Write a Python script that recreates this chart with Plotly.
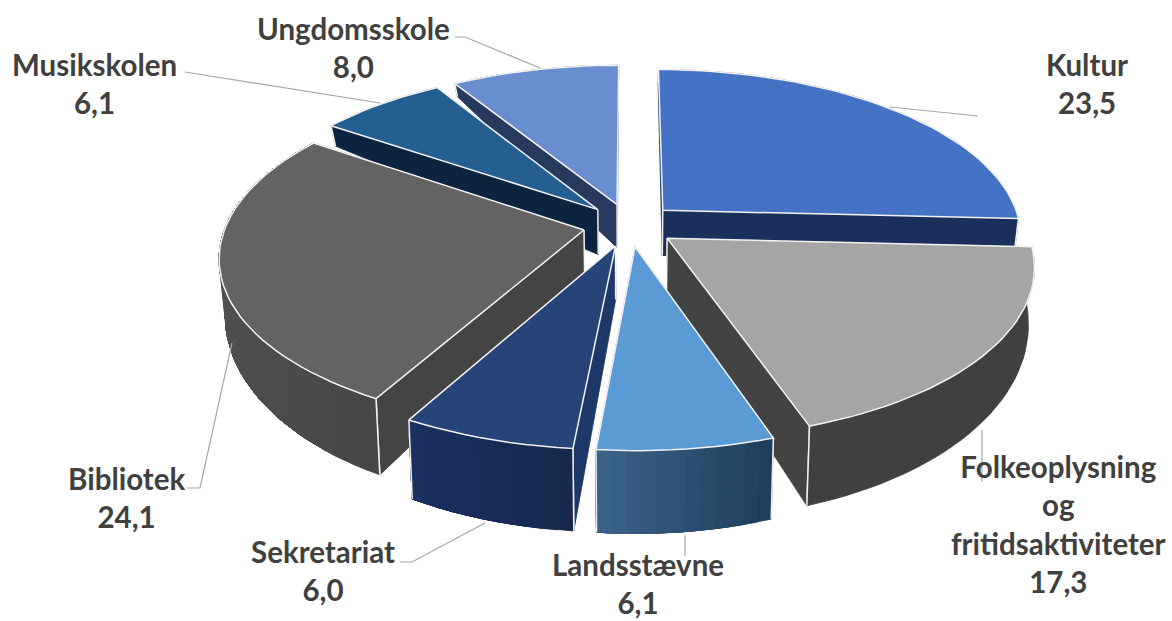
import math
import plotly.graph_objects as go

categories = ["Kultur", "Folkeoplysning<br>og<br>fritidsaktiviteter", "Landsstævne", "Sekretariat", "Bibliotek", "Musikskolen", "Ungdomsskole"]
values = [23.5, 17.3, 6.1, 6.0, 24.1, 6.1, 8.0]
value_labels = ["23,5", "17,3", "6,1", "6,0", "24,1", "6,1", "8,0"]

top_colors = ["#4472C4", "#A5A5A5", "#5B9BD5", "#264478", "#636363", "#255E91", "#698ED0"]
wall_start = ["#1A2F5C", "#404040", "#1F3E5C", "#16284D", "#474747", "#0C2440", "#28395F"]
wall_end = ["#1A2F5C", "#404040", "#3A6288", "#1A3060", "#5A5A5A", "#0C2440", "#28395F"]
radial_colors = ["#1A2F5C", "#434343", "#1F3D5C", "#1E3868", "#444444", "#0C2440", "#28395F"]
draw_order = [6, 0, 5, 4, 1, 3, 2]

label_xy = [(1087, 83), (1058, 524), (638, 583), (323, 570), (126, 497), (94, 83), (353, 47)]
leaders = [
    [(890, 107), (978, 116)],
    [(982, 430), (982, 482)],
    [(685, 535), (685, 556)],
    [(485, 523), (412, 562), (400, 562)],
    [(232, 343), (200, 488), (187, 488)],
    [(380, 103), (185, 72)],
    [(540, 68), (465, 37), (455, 37)],
]

CX, CY, RX, RY, K, EXPLODE = 629.5, 225, 358, 166, 0.15, 0.13
STEP = 2
EDGE = "#F2F2F2"


def wall_height(v):
    if v <= 0:
        return 50 - 29 * v
    return 13 + 37 * max(0.0, 1 - v) ** 1.5


def project(u, v, bottom=False):
    s = 1 / (1 + K * v)
    x = RX * u * s
    y = -RY * v * s
    if bottom:
        return CX + x * 0.985, CY + y + wall_height(v)
    return CX + x, CY + y


def mix(a, b, t):
    ca = [int(a[i:i + 2], 16) for i in (1, 3, 5)]
    cb = [int(b[i:i + 2], 16) for i in (1, 3, 5)]
    return "#%02X%02X%02X" % tuple(round(p + (q - p) * t) for p, q in zip(ca, cb))


def poly(fig, pts, fill, line=None, width=1.5):
    fig.add_trace(go.Scatter(
        x=[p[0] for p in pts] + [pts[0][0]], y=[p[1] for p in pts] + [pts[0][1]],
        mode="lines", fill="toself", fillcolor=fill,
        line=dict(color=line or fill, width=width if line else 0.8),
        hoverinfo="skip", showlegend=False))


def edge(fig, pa, pb):
    fig.add_trace(go.Scatter(x=[pa[0], pb[0]], y=[pa[1], pb[1]], mode="lines",
                             line=dict(color=EDGE, width=1.5), hoverinfo="skip", showlegend=False))


fig = go.Figure()
total = sum(values)
starts = []
a = 0.0
for val in values:
    starts.append(a)
    a += val / total * 2 * math.pi

for i in draw_order:
    a0 = starts[i]
    a1 = a0 + values[i] / total * 2 * math.pi
    mid = (a0 + a1) / 2
    eu, ev = EXPLODE * math.sin(mid), EXPLODE * math.cos(mid)
    n = max(6, int(math.degrees(a1 - a0) / STEP))
    angles = [a0 + (a1 - a0) * j / n for j in range(n + 1)]
    rim = [(eu + math.sin(t), ev + math.cos(t)) for t in angles]
    apex = (eu, ev)
    # radial walls, far one first so the near one covers it
    for end in sorted((rim[0], rim[-1]), key=lambda p: -p[1]):
        poly(fig, [project(*apex), project(*end), project(*end, True), project(*apex, True)],
             radial_colors[i])
        edge(fig, project(*end), project(*end, True))
    edge(fig, project(*apex), project(*apex, True))
    # rim wall: nested layers, each one covering the rest of the arc, so no seams show
    layers = range(n) if wall_start[i] != wall_end[i] else [0]
    for j in layers:
        arc = rim[j:]
        pts = [project(*p) for p in arc] + [project(*p, True) for p in reversed(arc)]
        poly(fig, pts, mix(wall_start[i], wall_end[i], j / max(1, n - 1)))
    for end in (rim[0], rim[-1]):
        edge(fig, project(*end), project(*end, True))
    # top
    poly(fig, [project(*apex)] + [project(*p) for p in rim], top_colors[i], EDGE)

for path in leaders:
    fig.add_trace(go.Scatter(x=[p[0] for p in path], y=[p[1] for p in path], mode="lines",
                             line=dict(color="#A6A6A6", width=1.2), hoverinfo="skip", showlegend=False))

for name, lab, (x, y) in zip(categories, value_labels, label_xy):
    fig.add_annotation(x=x, y=y, text=f"<b>{name}<br>{lab}</b>", showarrow=False,
                       font=dict(family="Lato", size=29.5, color="#404040"),
                       align="center", xanchor="center", yanchor="middle")

fig.update_xaxes(range=[0, 1172], visible=False)
fig.update_yaxes(range=[621, 0], visible=False)
fig.update_layout(width=1172, height=621, margin=dict(l=0, r=0, t=0, b=0),
                  plot_bgcolor="white", paper_bgcolor="white", showlegend=False)
fig.write_html("out.html", config={"displayModeBar": False},
               post_script="document.body.style.margin='0';document.body.style.overflow='hidden';")
